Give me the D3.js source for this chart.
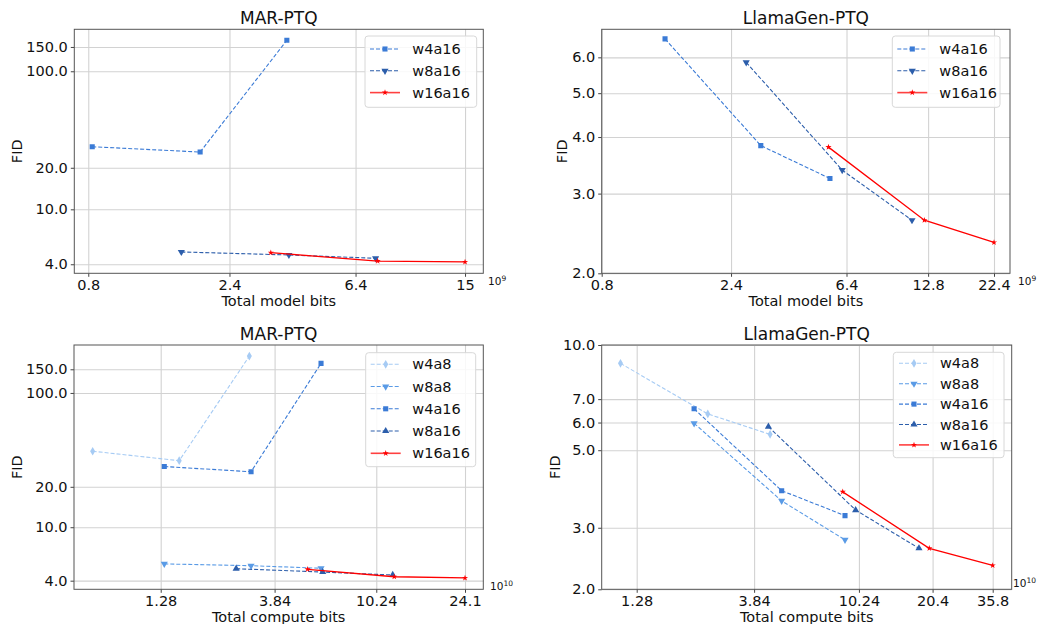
<!DOCTYPE html>
<html>
<head>
<meta charset="utf-8">
<script src="https://cdn.jsdelivr.net/npm/d3@7"></script>
<style>
  body { margin: 0; background: #fff; }
  svg { display: block; font-family: "DejaVu Sans", sans-serif; }
</style>
</head>
<body>
<svg id="chart" width="1037" height="624"></svg>
<script>
// ---------------- DATA ----------------
// Top-left: MAR-PTQ, total model bits (x 1e9)
const marModelBits_w4a16 = [0.825, 1.91, 3.75];
const marModelFID_w4a16  = [28.4, 26.0, 167.7];
const marModelBits_w8a16 = [1.65, 3.81, 7.48];
const marModelFID_w8a16  = [4.91, 4.67, 4.42];
const marModelBits_w16a16 = [3.31, 7.6, 15.0];
const marModelFID_w16a16  = [4.85, 4.22, 4.16];

// Top-right: LlamaGen-PTQ, total model bits (x 1e9)
const llamaModelBits_w4a16 = [1.37, 3.09, 5.56];
const llamaModelFID_w4a16  = [6.59, 3.83, 3.24];
const llamaModelBits_w8a16 = [2.73, 6.17, 11.16];
const llamaModelFID_w8a16  = [5.85, 3.38, 2.62];
const llamaModelBits_w16a16 = [5.49, 12.4, 22.4];
const llamaModelFID_w16a16  = [3.80, 2.62, 2.34];

// Bottom-left: MAR-PTQ, total compute bits (x 1e10)
const marComputeBits_w4a8  = [0.664, 1.53, 3.01];
const marComputeFID_w4a8   = [36.8, 31.3, 188];
const marComputeBits_w8a8  = [1.325, 3.06, 6.01];
const marComputeFID_w8a8   = [5.33, 5.17, 4.95];
const marComputeBits_w4a16 = [1.325, 3.06, 6.01];
const marComputeFID_w4a16  = [28.3, 25.9, 166];
const marComputeBits_w8a16 = [2.65, 6.11, 12.0];
const marComputeFID_w8a16  = [4.91, 4.64, 4.41];
const marComputeBits_w16a16 = [5.28, 12.18, 24.1];
const marComputeFID_w16a16  = [4.86, 4.28, 4.19];

// Bottom-right: LlamaGen-PTQ, total compute bits (x 1e10)
const llamaComputeBits_w4a8  = [1.10, 2.49, 4.46];
const llamaComputeFID_w4a8   = [8.86, 6.35, 5.55];
const llamaComputeBits_w8a8  = [2.19, 4.97, 8.99];
const llamaComputeFID_w8a8   = [5.97, 3.58, 2.77];
const llamaComputeBits_w4a16 = [2.19, 4.97, 8.99];
const llamaComputeFID_w4a16  = [6.57, 3.83, 3.25];
const llamaComputeBits_w8a16 = [4.39, 9.93, 17.96];
const llamaComputeFID_w8a16  = [5.84, 3.37, 2.62];
const llamaComputeBits_w16a16 = [8.80, 19.78, 35.8];
const llamaComputeFID_w16a16  = [3.80, 2.62, 2.34];

// Tick values / labels
const marModelXTicks = [0.8, 2.4, 6.4, 15];
const marModelXLabels = ["0.8", "2.4", "6.4", "15"];
const marYTicks = [4, 10, 20, 100, 150];
const llamaModelXTicks = [0.8, 2.4, 6.4, 12.8, 22.4];
const llamaModelXLabels = ["0.8", "2.4", "6.4", "12.8", "22.4"];
const llamaModelYTicks = [2, 3, 4, 5, 6];
const marComputeXTicks = [1.28, 3.84, 10.24, 24.1];
const marComputeXLabels = ["1.28", "3.84", "10.24", "24.1"];
const llamaComputeXTicks = [1.28, 3.84, 10.24, 20.4, 35.8];
const llamaComputeXLabels = ["1.28", "3.84", "10.24", "20.4", "35.8"];
const llamaComputeYTicks = [2, 3, 5, 6, 7, 10];

const titles = ["MAR-PTQ", "LlamaGen-PTQ", "MAR-PTQ", "LlamaGen-PTQ"];
const xLabels = ["Total model bits", "Total model bits", "Total compute bits", "Total compute bits"];
const offsetExp = ["9", "9", "10", "10"];

// ---------------- STYLES ----------------
const style = {
  w4a8:  { color: "#a6cbf4", sym: "diamond",  dash: "4,2" },
  w8a8:  { color: "#5a9be6", sym: "tridown",  dash: "4,2" },
  w4a16: { color: "#3b7bd6", sym: "square",   dash: "4,2" },
  w8a16: { color: "#2c5eab", sym: "tridown",  dash: "4,2" },
  w8a16up: { color: "#2c5eab", sym: "triup",  dash: "4,2" },
  w16a16:{ color: "#ff0000", sym: "star",     dash: null }
};

function zip(xs, ys) { return xs.map((x, i) => ({ x: x, y: ys[i] })); }

const panels = [
  {
    frame: { l: 74.3, r: 483.3, t: 29.3, b: 273.3 },
    xDomain: [0.7176, 17.29], yDomain: [3.44, 201.4],
    xTicks: marModelXTicks, xTickLabels: marModelXLabels, yTicks: marYTicks,
    series: [
      { name: "w4a16", st: style.w4a16, pts: zip(marModelBits_w4a16, marModelFID_w4a16) },
      { name: "w8a16", st: style.w8a16, pts: zip(marModelBits_w8a16, marModelFID_w8a16) },
      { name: "w16a16", st: style.w16a16, pts: zip(marModelBits_w16a16, marModelFID_w16a16) }
    ],
    legend: { x: 365, y: 36, w: 111.7, h: 71.3, first: 49, step: 21.8, lx: 370, tx: 412.3 },
    ylabX: 17, offX: 488, offY: 285
  },
  {
    frame: { l: 601.7, r: 1010, t: 29.3, b: 273.3 },
    xDomain: [0.8, 25.66], yDomain: [2, 6.92],
    xTicks: llamaModelXTicks, xTickLabels: llamaModelXLabels, yTicks: llamaModelYTicks,
    series: [
      { name: "w4a16", st: style.w4a16, pts: zip(llamaModelBits_w4a16, llamaModelFID_w4a16) },
      { name: "w8a16", st: style.w8a16, pts: zip(llamaModelBits_w8a16, llamaModelFID_w8a16) },
      { name: "w16a16", st: style.w16a16, pts: zip(llamaModelBits_w16a16, llamaModelFID_w16a16) }
    ],
    legend: { x: 892.3, y: 36, w: 107.7, h: 71.3, first: 49, step: 21.8, lx: 897.3, tx: 939.3 },
    ylabX: 562, offX: 1018, offY: 285
  },
  {
    frame: { l: 74, r: 483.3, t: 345, b: 589.3 },
    xDomain: [0.5546, 28.75], yDomain: [3.45, 227.5],
    xTicks: marComputeXTicks, xTickLabels: marComputeXLabels, yTicks: marYTicks,
    series: [
      { name: "w4a8", st: style.w4a8, pts: zip(marComputeBits_w4a8, marComputeFID_w4a8) },
      { name: "w8a8", st: style.w8a8, pts: zip(marComputeBits_w8a8, marComputeFID_w8a8) },
      { name: "w4a16", st: style.w4a16, pts: zip(marComputeBits_w4a16, marComputeFID_w4a16) },
      { name: "w8a16", st: style.w8a16up, pts: zip(marComputeBits_w8a16, marComputeFID_w8a16) },
      { name: "w16a16", st: style.w16a16, pts: zip(marComputeBits_w16a16, marComputeFID_w16a16) }
    ],
    legend: { x: 365.7, y: 352.7, w: 110, h: 114, first: 364.3, step: 22.25, lx: 370.7, tx: 412.3 },
    ylabX: 17, offX: 490, offY: 590
  },
  {
    frame: { l: 601.7, r: 1011.7, t: 345, b: 589.3 },
    xDomain: [0.9226, 42.77], yDomain: [2, 10],
    xTicks: llamaComputeXTicks, xTickLabels: llamaComputeXLabels, yTicks: llamaComputeYTicks,
    series: [
      { name: "w4a8", st: style.w4a8, pts: zip(llamaComputeBits_w4a8, llamaComputeFID_w4a8) },
      { name: "w8a8", st: style.w8a8, pts: zip(llamaComputeBits_w8a8, llamaComputeFID_w8a8) },
      { name: "w4a16", st: style.w4a16, pts: zip(llamaComputeBits_w4a16, llamaComputeFID_w4a16) },
      { name: "w8a16", st: style.w8a16up, pts: zip(llamaComputeBits_w8a16, llamaComputeFID_w8a16) },
      { name: "w16a16", st: style.w16a16, pts: zip(llamaComputeBits_w16a16, llamaComputeFID_w16a16) }
    ],
    legend: { x: 893.3, y: 352.3, w: 110.7, h: 105.4, first: 363.3, step: 20.4, lx: 899, tx: 940 },
    ylabX: 555, offX: 1013, offY: 587
  }
];

const svg = d3.select("#chart");

function symbolPath(sym) {
  switch (sym) {
    case "square": return { p: d3.symbol(d3.symbolSquare, 26)(), rot: 0 };
    case "tridown": return { p: d3.symbol(d3.symbolTriangle, 22)(), rot: 180 };
    case "triup": return { p: d3.symbol(d3.symbolTriangle, 22)(), rot: 0 };
    case "diamond": return { p: d3.symbol(d3.symbolDiamond, 22)(), rot: 0 };
    case "star": return { p: d3.symbol(d3.symbolStar, 12)(), rot: 0 };
  }
}

panels.forEach((pn, i) => {
  const f = pn.frame;
  const W = f.r - f.l, H = f.b - f.t;
  const x = d3.scaleLog().domain(pn.xDomain).range([f.l, f.r]);
  const y = d3.scaleLog().domain(pn.yDomain).range([f.b, f.t]);
  const g = svg.append("g");

  // grid
  const gx = g.append("g").attr("transform", `translate(0,${f.b})`)
    .call(d3.axisBottom(x).tickValues(pn.xTicks).tickSize(-H).tickFormat(""));
  gx.select(".domain").remove();
  gx.selectAll("line").attr("stroke", "#d2d2d2").attr("stroke-width", 1.1);
  const gy = g.append("g").attr("transform", `translate(${f.l},0)`)
    .call(d3.axisLeft(y).tickValues(pn.yTicks).tickSize(-W).tickFormat(""));
  gy.select(".domain").remove();
  gy.selectAll("line").attr("stroke", "#d2d2d2").attr("stroke-width", 1.1);

  // axes with labels
  const ax = g.append("g").attr("transform", `translate(0,${f.b})`)
    .call(d3.axisBottom(x).tickValues(pn.xTicks).tickSize(3.5).tickPadding(3)
      .tickFormat((d, k) => pn.xTickLabels[k]));
  ax.select(".domain").remove();
  ax.selectAll("line").attr("stroke", "#444");
  ax.selectAll("text").attr("font-size", "14.5px").attr("fill", "#111")
    .attr("font-family", "DejaVu Sans");
  const ay = g.append("g").attr("transform", `translate(${f.l},0)`)
    .call(d3.axisLeft(y).tickValues(pn.yTicks).tickSize(3.5).tickPadding(3)
      .tickFormat(d3.format(".1f")));
  ay.select(".domain").remove();
  ay.selectAll("line").attr("stroke", "#444");
  ay.selectAll("text").attr("font-size", "14.5px").attr("fill", "#111")
    .attr("font-family", "DejaVu Sans");

  // frame
  g.append("rect").attr("x", f.l).attr("y", f.t).attr("width", W).attr("height", H)
    .attr("fill", "none").attr("stroke", "#555").attr("stroke-width", 1);

  // clip
  const clipId = "clip" + i;
  g.append("clipPath").attr("id", clipId).append("rect")
    .attr("x", f.l - 6).attr("y", f.t - 6).attr("width", W + 12).attr("height", H + 12);

  const line = d3.line().x(d => x(d.x)).y(d => y(d.y));
  const plot = g.append("g").attr("clip-path", `url(#${clipId})`);
  pn.series.forEach(s => {
    plot.append("path").datum(s.pts).attr("d", line)
      .attr("fill", "none").attr("stroke", s.st.color)
      .attr("stroke-width", s.st.dash ? 1.1 : 1.3)
      .attr("stroke-dasharray", s.st.dash);
    const sp = symbolPath(s.st.sym);
    plot.selectAll(null).data(s.pts).enter().append("path")
      .attr("d", sp.p)
      .attr("transform", d => `translate(${x(d.x)},${y(d.y)}) rotate(${sp.rot})`)
      .attr("fill", s.st.color);
  });

  // title
  g.append("text").attr("x", (f.l + f.r) / 2).attr("y", f.t - 5)
    .attr("text-anchor", "middle").attr("font-size", "17px").attr("fill", "#111")
    .text(titles[i]);
  // x label
  g.append("text").attr("x", (f.l + f.r) / 2).attr("y", f.b + 33)
    .attr("text-anchor", "middle").attr("font-size", "14.5px").attr("fill", "#111")
    .text(xLabels[i]);
  // y label
  g.append("text").attr("transform", `translate(${pn.ylabX + 5},${(f.t + f.b) / 2}) rotate(-90)`)
    .attr("text-anchor", "middle").attr("font-size", "14.5px").attr("fill", "#111")
    .text("FID");
  // offset text
  const ot = g.append("text").attr("x", pn.offX).attr("y", pn.offY)
    .attr("font-size", "10.5px").attr("fill", "#111");
  ot.append("tspan").text("10");
  ot.append("tspan").attr("dy", -4).attr("font-size", "7.5px").text(offsetExp[i]);

  // legend
  const L = pn.legend;
  const lg = g.append("g");
  lg.append("rect").attr("x", L.x).attr("y", L.y).attr("width", L.w).attr("height", L.h)
    .attr("rx", 3).attr("fill", "#fff").attr("fill-opacity", 0.85)
    .attr("stroke", "#d8d8d8").attr("stroke-width", 1);
  pn.series.forEach((s, k) => {
    const cy = L.first + k * L.step;
    lg.append("line").attr("x1", L.lx).attr("x2", L.lx + 30).attr("y1", cy).attr("y2", cy)
      .attr("stroke", s.st.color).attr("stroke-width", s.st.dash ? 1.1 : 1.6)
      .attr("stroke-opacity", s.st.dash ? 1 : 0.75)
      .attr("stroke-dasharray", s.st.dash);
    const sp = symbolPath(s.st.sym);
    lg.append("path").attr("d", sp.p)
      .attr("transform", `translate(${L.lx + 15},${cy}) rotate(${sp.rot})`)
      .attr("fill", s.st.color);
    lg.append("text").attr("x", L.tx).attr("y", cy + 5)
      .attr("font-size", "14.5px").attr("fill", "#111").text(s.name);
  });
});
</script>
</body>
</html>
